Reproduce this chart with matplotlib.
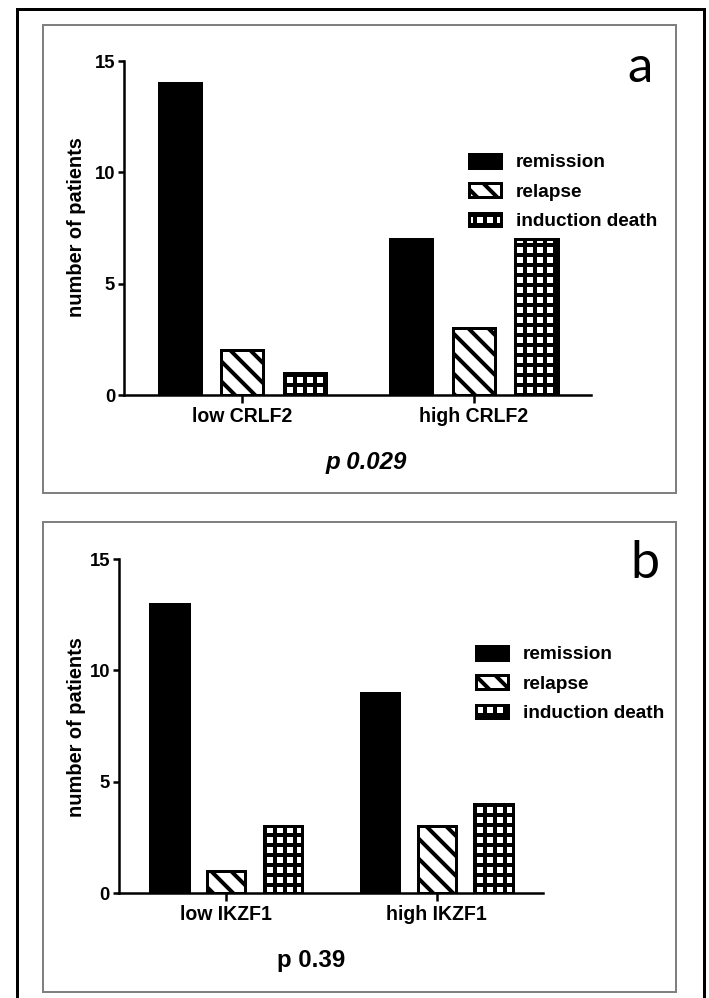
import numpy as np
import matplotlib
matplotlib.use('Agg')
import matplotlib.pyplot as plt
from matplotlib.patches import Rectangle

# data
outcomes = ['remission', 'relapse', 'induction death']
groups_a = ['low CRLF2', 'high CRLF2']
remission_a = [14, 7]
relapse_a = [2, 3]
death_a = [1, 7]
groups_b = ['low IKZF1', 'high IKZF1']
remission_b = [13, 9]
relapse_b = [1, 3]
death_b = [3, 4]

W, H = 709, 998
DPI = 60  # hatch spacing is dpi/6 px -> 10 px cells like the original


def pt(px):
    # pixel size -> points at this dpi
    return px * 72.0 / DPI


plt.rcParams['font.family'] = ['Liberation Sans', 'DejaVu Sans']
plt.rcParams['font.weight'] = 'bold'
plt.rcParams['hatch.linewidth'] = pt(4.0)
plt.rcParams['hatch.color'] = 'black'

fig = plt.figure(figsize=(W / DPI, H / DPI), dpi=DPI)


def fx(x):
    return x / W


def fy(y):
    return 1 - y / H


def draw_panel(rect, groups, remission, relapse, death):
    ax = fig.add_axes(rect)
    x = np.arange(len(groups))
    series = [remission, relapse, death]
    faces = ['black', 'white', 'white']
    hatches = [None, '\\', '+']
    offsets = [-0.27, 0, 0.27]
    for vals, fc, h, off, lab in zip(series, faces, hatches, offsets, outcomes):
        ax.bar(x + off, vals, width=0.182, color=fc, edgecolor='black',
               linewidth=pt(3), hatch=h, label=lab)
    ax.set_xlim(-0.51, 1.505)
    ax.set_ylim(0, 15)
    ax.set_yticks([0, 5, 10, 15])
    ax.set_xticks(x)
    ax.set_xticklabels(groups)
    for s in ['top', 'right']:
        ax.spines[s].set_visible(False)
    for s in ['left', 'bottom']:
        ax.spines[s].set_linewidth(pt(2.5))
    ax.tick_params(axis='y', length=pt(6), width=pt(2.5), pad=pt(3), labelsize=pt(18.5))
    ax.tick_params(axis='x', length=pt(8), width=pt(2.5), pad=pt(4), labelsize=pt(19.5))
    return ax


ax_a = draw_panel([fx(124), fy(395), 467 / W, 334 / H], groups_a, remission_a, relapse_a, death_a)
ax_b = draw_panel([fx(119), fy(893), 424 / W, 334 / H], groups_b, remission_b, relapse_b, death_b)

leg_kw = dict(loc='center left', bbox_transform=fig.transFigure, frameon=False,
              borderpad=0, borderaxespad=0, handlelength=1.7, handleheight=0.75,
              handletextpad=0.75, labelspacing=0.62,
              prop=dict(family='Liberation Sans', weight='bold', size=pt(19)))
ax_a.legend(bbox_to_anchor=(fx(469), fy(192)), **leg_kw)
ax_b.legend(bbox_to_anchor=(fx(476), fy(684)), **leg_kw)

# panel frames
fig.add_artist(Rectangle((fx(17), -0.05), (704 - 17) / W, fy(9) + 0.05,
                         transform=fig.transFigure, fill=False, ec='black', lw=pt(3)))
for top, bot in [(25, 493), (522, 992)]:
    fig.add_artist(Rectangle((fx(43), fy(bot)), (676 - 43) / W, (bot - top) / H,
                             transform=fig.transFigure, fill=False, ec='#808080', lw=pt(2)))

# labels
fig.text(fx(76), fy(227), 'number of patients', rotation=90, ha='center', va='center', fontsize=pt(20))
fig.text(fx(76), fy(727), 'number of patients', rotation=90, ha='center', va='center', fontsize=pt(20))
fig.text(fx(640), fy(82), 'a', family='Lato', fontweight='normal', fontsize=pt(51), ha='center', va='baseline')
fig.text(fx(645), fy(578), 'b', family='Lato', fontweight='normal', fontsize=pt(52), ha='center', va='baseline')
fig.text(fx(366), fy(462), 'p 0.029', style='italic', fontsize=pt(24), ha='center', va='center')
fig.text(fx(311), fy(960), 'p 0.39', fontsize=pt(24), ha='center', va='center')

fig.savefig('out.png', dpi=DPI)
